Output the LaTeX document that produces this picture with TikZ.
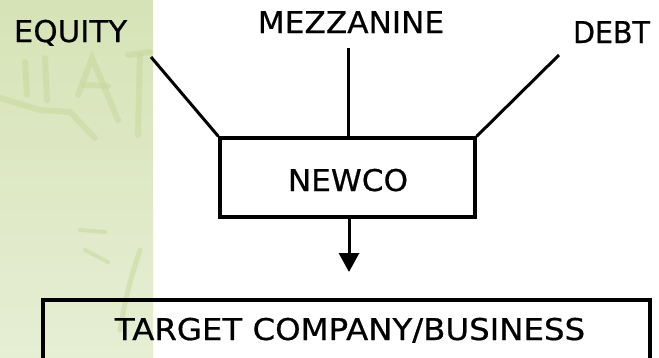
\documentclass[tikz,border=0pt]{standalone}
\usepackage{fontspec}
\setmainfont{DejaVu Sans}
\newfontfamily\lblfont{DejaVu Sans}[FakeBold=0.6]
\usetikzlibrary{arrows.meta}
\definecolor{panelTop}{RGB}{214,227,182}
\definecolor{panelBot}{RGB}{230,238,212}
\definecolor{sketch}{RGB}{200,216,158}
\tikzset{
  lbl/.style={anchor=base, inner sep=0pt, font=\lblfont\fontsize{30}{36}\selectfont},
  boxstyle/.style={draw, line width=3.2pt, inner sep=0pt},
  conn/.style={line width=3pt},
  sk/.style={sketch, line width=6pt, line cap=round, opacity=0.55}
}
\begin{document}
\begin{tikzpicture}[x=1pt,y=-1pt]
\useasboundingbox (0,0) rectangle (659,357);
\clip (0,0) rectangle (659,357);
\fill[white] (0,0) rectangle (659,357);
\shade[top color=panelTop, bottom color=panelBot] (0,0) rectangle (153,357);
% faint background sketch
\draw[sk] (25,62) -- (27,95);
\draw[sk] (45,58) -- (47,100);
\draw[sk] (78,95) -- (92,58) -- (118,120);
\draw[sk] (84,85) -- (108,86);
\draw[sk] (128,55) -- (150,52);
\draw[sk] (140,55) -- (138,135);
\draw[sk] (0,98) -- (40,110) -- (70,112) -- (95,138);
\draw[sk, line width=4pt] (80,230) -- (105,232);
\draw[sk, line width=4pt] (85,250) -- (108,262);
\draw[sk, line width=5pt] (140,250) .. controls (130,280) and (125,300) .. (120,330);
% labels
\node[lbl] (equity) at (70.5,42) {\scalebox{1.03}[1]{EQUITY}};
\node[lbl] (mezz) at (351,33) {\scalebox{1.04}[1]{MEZZANINE}};
\node[lbl] (debt) at (611.5,43) {\scalebox{0.95}[1]{DEBT}};
% boxes
\node[boxstyle, minimum width=255pt, minimum height=79pt] (newco) at (347.5,177.5) {};
\node[lbl] (newcotext) at (348,191) {\scalebox{1.04}[1]{NEWCO}};
\node[boxstyle, minimum width=607pt, minimum height=80pt] (target) at (346.5,340) {};
\node[lbl] (targettext) at (350,340) {\scalebox{1.08}[1]{TARGET COMPANY/BUSINESS}};
% connectors
\coordinate (eqend) at (151,57);
\coordinate (mzend) at (348,48);
\coordinate (dbend) at (559,55);
\coordinate (arrend) at (349,272);
\draw[conn] (eqend) -- (newco.north west);
\draw[conn] (mzend) -- (newco.north -| mzend);
\draw[conn] (dbend) -- (newco.north east);
\draw[conn, -{Triangle[width=20pt,length=19pt]}] (newco.south -| arrend) -- (arrend);
\end{tikzpicture}
\end{document}
